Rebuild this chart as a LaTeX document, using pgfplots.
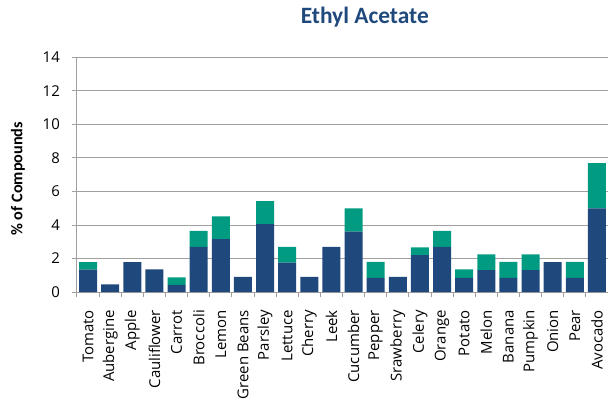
\documentclass[border=0pt]{standalone}
\usepackage{pgfplots}
\pgfplotsset{compat=1.18}
\usepackage{pgfplotstable}
\usepackage{fontspec}
\setmainfont{Carlito}
\newfontfamily\tickfont{Open Sans}
\definecolor{barblue}{HTML}{1F497D}
\definecolor{bargreen}{HTML}{009B80}
\definecolor{titleblue}{HTML}{1F497D}
\definecolor{gridgray}{HTML}{A0A0A0}
\pgfplotstableread{
idx blue green
0 1.33 0.45
1 0.45 0
2 1.78 0
3 1.35 0
4 0.42 0.46
5 2.70 0.95
6 3.15 1.37
7 0.90 0
8 4.05 1.37
9 1.75 0.95
10 0.90 0
11 2.70 0
12 3.60 1.40
13 0.85 0.95
14 0.90 0
15 2.20 0.47
16 2.70 0.95
17 0.85 0.50
18 1.30 0.95
19 0.85 0.95
20 1.30 0.95
21 1.78 0
22 0.85 0.95
23 5.00 2.70
}\datatable
\begin{document}
\begin{tikzpicture}
\begin{axis}[
  name=ax,
  scale only axis,
  width=531bp, height=234.5bp,
  ybar stacked,
  bar width=0.81,
  xmin=-0.5, xmax=23.5,
  ymin=0, ymax=14,
  ytick={0,2,...,14},
  xtick={0,...,23},
  xticklabels={Tomato,Aubergine,Apple,Cauliflower,Carrot,Broccoli,Lemon,Green Beans,Parsley,Lettuce,Cherry,Leek,Cucumber,Pepper,Srawberry,Celery,Orange,Potato,Melon,Banana,Pumpkin,Onion,Pear,Avocado},
  x tick label style={yshift=-12bp, rotate=90, anchor=east, font=\tickfont\fontsize{15}{17}\selectfont, inner sep=1bp},
  y tick label style={xshift=-10bp, font=\tickfont\fontsize{15}{17}\selectfont, inner sep=2bp},
  /pgf/number format/assume math mode=true,
  major x tick style={draw=none},
  minor xtick={-0.5,0.5,...,23.5},
  minor x tick style={draw=gridgray, line width=1bp},
  minor tick length=5bp,
  major tick length=5bp,
  tick align=outside,
  y tick style={draw=gridgray, line width=1bp},
  ymajorgrids,
  grid style={draw=gridgray, line width=1bp},
  axis x line*=bottom,
  axis y line*=left,
  axis line style={draw=gridgray, line width=1bp},
  ylabel={\textbf{\% of Compounds}},
  ylabel style={at={(axis description cs:0,0.5)}, anchor=center, yshift=59bp, xshift=-4bp, font=\fontsize{16.3}{18}\selectfont},
  title={\textbf{Ethyl Acetate}},
  title style={at={(axis description cs:0.542,1)}, anchor=base, yshift=28bp, font=\fontsize{23.5}{26}\selectfont, text=titleblue, inner sep=0pt},
  clip=false,
]
\addplot[fill=barblue, draw=none] table[x=idx, y=blue] {\datatable};
\addplot[fill=bargreen, draw=none] table[x=idx, y=green] {\datatable};
\end{axis}
\pgfresetboundingbox
\path ([xshift=-77bp,yshift=-112bp]ax.south west) rectangle ([yshift=57.5bp]ax.north east);
\end{tikzpicture}
\end{document}
